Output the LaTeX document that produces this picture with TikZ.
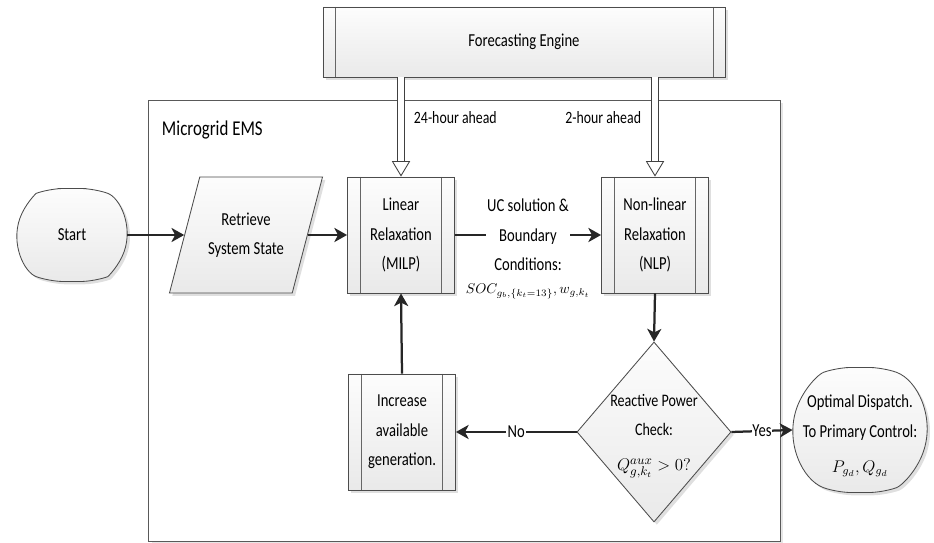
\documentclass[tikz,border=0pt]{standalone}
\usepackage{fontspec}
\setmainfont{Carlito}[FakeStretch=0.8]
\usepackage{tikz}
\usetikzlibrary{arrows.meta,positioning,shapes.geometric,shapes.misc,shadows}

\tikzset{
  box/.style={draw=black!70, line width=.6pt, top color=gray!2, bottom color=gray!17,
    drop shadow={shadow xshift=2pt, shadow yshift=-2pt, opacity=.25},
    align=center, inner sep=0pt, font=\fontsize{13}{21}\selectfont},
  proc/.style={box, minimum width=2.675cm, minimum height=2.9cm,
    path picture={
      \draw[black!60] ([xshift=.33cm]path picture bounding box.north west) -- ([xshift=.33cm]path picture bounding box.south west);
      \draw[black!60] ([xshift=-.33cm]path picture bounding box.north east) -- ([xshift=-.33cm]path picture bounding box.south east);}},
  term/.style={box, rounded rectangle, rounded rectangle arc length=140, rounded corners=10pt},
  flow/.style={draw=black!85, line width=1.6pt, -{Stealth[length=9pt,width=10pt,inset=2.5pt]}},
  elbl/.style={fill=white, inner sep=1pt, font=\fontsize{13}{21}\selectfont},
  fcshaft/.style={draw=black!75, line width=.6pt, double=white, double distance=4pt},
  fctip/.style={draw=black!75, line width=.6pt, -{Triangle[length=11pt,width=13pt,fill=white]}}
}

\begin{document}
\begin{tikzpicture}[x=0.025cm, y=-0.025cm]
\useasboundingbox (0,0) rectangle (934,543);

% EMS frame and forecasting
\node[draw=black!65, line width=.6pt, fill=white, minimum width=15.775cm, minimum height=11.025cm,
  drop shadow={shadow xshift=2pt, shadow yshift=-2pt, opacity=.2}] (ems) at (464.5,320.5) {};
\node[anchor=west, font=\fontsize{15}{17}\selectfont] (emslbl) at (157,130) {Microgrid EMS};
\node[box, minimum width=10.05cm, minimum height=1.75cm,
  path picture={
    \draw[black!60] ([xshift=.3cm]path picture bounding box.north west) -- ([xshift=.3cm]path picture bounding box.south west);
    \draw[black!60] ([xshift=-.3cm]path picture bounding box.north east) -- ([xshift=-.3cm]path picture bounding box.south east);}]
  (fc) at (524,42) {Forecasting Engine};

% blocks
\node[term, minimum width=2.75cm, minimum height=2.325cm] (start) at (72,235) {Start};
\node[box, trapezium, trapezium left angle=75, trapezium right angle=105, trapezium stretches body=true,
  inner ysep=.85cm, minimum width=3.825cm, minimum height=2.9cm] (ret) at (246,235) {Retrieve\\System State};
\node[proc] (milp) at (401,235) {Linear\\Relaxation\\(MILP)};
\node[proc] (nlp) at (655,235) {Non-linear\\Relaxation\\(NLP)};
\node[proc] (inc) at (402,432) {Increase\\available\\generation.};
\node[box, diamond, minimum width=3.85cm, minimum height=4.5cm] (chk) at (654,432) {};
\node[align=center, inner sep=0pt, font=\fontsize{12.5}{21}\selectfont] (chktxt) at (654,436)
  {Reactive Power\\Check:\\[4pt]$Q^{aux}_{g,k_t}>0?$};
\node[term, minimum width=3.35cm, minimum height=3.125cm] (opt) at (860,430) {};
\node[align=center, inner sep=0pt, font=\fontsize{13}{21}\selectfont] (opttxt) at (860,436)
  {Optimal Dispatch.\\To Primary Control:\\[4pt]\large$P_{g_d},Q_{g_d}$};

% forecast inputs
\coordinate (f24) at (fc.south -| milp.north);
\coordinate (f2) at (fc.south -| nlp.north);
\draw[fcshaft] (f24) -- ([yshift=10pt]milp.north);
\draw[fctip] ([yshift=11pt]milp.north) -- (milp.north);
\draw[fcshaft] (f2) -- ([yshift=10pt]nlp.north);
\draw[fctip] ([yshift=11pt]nlp.north) -- (nlp.north);
\node[anchor=west, font=\fontsize{12.3}{14}\selectfont] (l24) at (409,118) {24-hour ahead};
\node[anchor=east, font=\fontsize{12.3}{14}\selectfont] (l2) at (646,118) {2-hour ahead};

% flow
\draw[flow] (start.east) -- (ret.left side);
\draw[flow] (ret.right side) -- (milp.west);
\draw[flow] (milp.east) -- node[elbl, align=center] (uc) {UC solution \&\\Boundary\\Conditions:} (nlp.west);
\node[below=4pt of uc] (ucmath) {$SOC_{g_b,\{k_t=13\}},w_{g,k_t}$};
\draw[flow] (nlp.south) -- (chk.north);
\draw[flow] (chk.west) -- node[elbl] (no) {No} (inc.east);
\draw[flow] (inc.north) -- (milp.south);
\draw[flow] (chk.east) -- node[elbl, inner sep=.5pt] (yes) {Yes} (opt.west);
\end{tikzpicture}
\end{document}
